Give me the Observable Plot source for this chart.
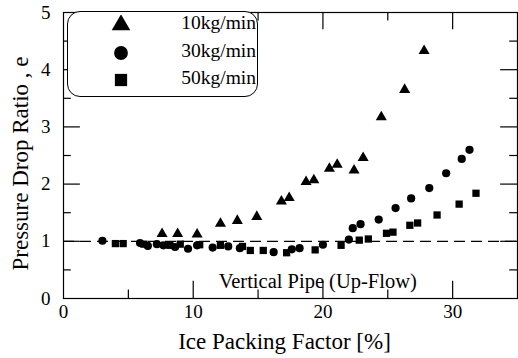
<!DOCTYPE html>
<html>
<head>
<meta charset="utf-8">
<script src="https://cdn.jsdelivr.net/npm/d3@7"></script>
<script src="https://cdn.jsdelivr.net/npm/@observablehq/plot@0.6"></script>
<style>
  html, body { margin: 0; padding: 0; background: #fff; }
  #wrap { position: relative; width: 518px; height: 358px; font-family: "Liberation Serif", "Times New Roman", Times, serif; }
  #wrap svg text { font-family: "Liberation Serif", "Times New Roman", Times, serif !important; }
  #legend { position: absolute; left: 67px; top: 11px; width: 191px; height: 86px; border: 1.5px solid #000; border-radius: 13px; background: #fff; box-sizing: border-box; }
  .row { position: absolute; left: 0; width: 100%; height: 26px; }
  .row svg { position: absolute; left: 43px; top: 3px; }
  .row span { position: absolute; right: 1px; top: 0px; font-size: 19.5px; color: #000; font-family: "Liberation Serif", "Times New Roman", Times, serif; }
</style>
</head>
<body>
<div id="wrap"><div id="legend"></div></div>
<script>
const seriesNames = ["10kg/min", "30kg/min", "50kg/min"];
const seriesSymbols = ["triangle", "circle", "square"];

const ipf10 = [7.6, 8.8, 10.3, 12.1, 13.4, 14.9, 16.8, 17.4, 18.7, 19.3, 20.5, 21.1, 22.4, 23.1, 24.5, 26.3, 27.8];
const ratio10 = [1.13, 1.13, 1.12, 1.31, 1.36, 1.43, 1.70, 1.76, 2.04, 2.07, 2.27, 2.34, 2.24, 2.46, 3.17, 3.65, 4.33];

const ipf30 = [3.0, 5.9, 6.5, 7.2, 7.7, 8.6, 9.6, 10.3, 11.5, 12.7, 13.6, 16.2, 17.6, 18.2, 20.0, 22.0, 22.3, 22.9, 24.3, 25.6, 26.8, 28.2, 29.5, 30.7, 31.3];
const ratio30 = [1.01, 0.97, 0.92, 0.95, 0.93, 0.90, 0.87, 0.93, 0.89, 0.91, 0.88, 0.81, 0.86, 0.88, 0.94, 1.03, 1.23, 1.30, 1.38, 1.58, 1.75, 1.93, 2.19, 2.44, 2.60];

const ipf50 = [4.0, 4.6, 6.2, 8.2, 9.0, 10.5, 12.1, 13.8, 14.4, 15.4, 17.2, 19.4, 21.4, 22.8, 23.5, 24.9, 25.4, 26.7, 27.3, 28.8, 30.5, 31.8];
const ratio50 = [0.96, 0.96, 0.95, 0.93, 0.95, 0.94, 0.93, 0.91, 0.84, 0.84, 0.80, 0.85, 0.93, 1.02, 1.04, 1.14, 1.16, 1.28, 1.32, 1.46, 1.65, 1.84];

const xTicks = [0, 10, 20, 30];
const xMinor = [5, 15, 25];
const yTicks = [0, 1, 2, 3, 4, 5];
const yMajorInner = [1, 2, 3, 4];
const yMinor = [0.5, 1.5, 2.5, 3.5, 4.5];
const refLine = [1];
const notes = [{x: 19.6, y: 0.29, text: "Vertical Pipe (Up-Flow)"}];

const xLabel = "Ice Packing Factor [%]";
const yLabel = "Pressure Drop Ratio , e";

const serif = "'Liberation Serif', 'Times New Roman', Times, serif";

const toRows = (xs, ys, s) => xs.map((x, i) => ({x, y: ys[i], s}));
const data = [
  ...toRows(ipf10, ratio10, seriesNames[0]),
  ...toRows(ipf30, ratio30, seriesNames[1]),
  ...toRows(ipf50, ratio50, seriesNames[2])
];

const xMax = 35, yMax = 5;
const majX = 1.3, minX = 0.6, majY = 0.3, minY = 0.15;

const chart = Plot.plot({
  width: 518,
  height: 358,
  marginLeft: 63,
  marginRight: 1,
  marginTop: 12,
  marginBottom: 60,
  style: {fontFamily: serif, fontSize: "19px", color: "#000", background: "#fff"},
  x: {domain: [0, xMax]},
  y: {domain: [0, yMax]},
  symbol: {domain: seriesNames, range: seriesSymbols},
  marks: [
    Plot.frame({stroke: "#000", strokeWidth: 1.2}),
    Plot.ruleY(refLine, {stroke: "#000", strokeWidth: 1.3, strokeDasharray: "11,6"}),
    Plot.ruleX(xTicks.slice(1), {y1: 0, y2: majY, stroke: "#000", strokeWidth: 1.2}),
    Plot.ruleX(xMinor, {y1: 0, y2: minY, stroke: "#000", strokeWidth: 1.2}),
    Plot.ruleX(xTicks.slice(1), {y1: yMax, y2: yMax - majY, stroke: "#000", strokeWidth: 1.2}),
    Plot.ruleX(xMinor, {y1: yMax, y2: yMax - minY, stroke: "#000", strokeWidth: 1.2}),
    Plot.ruleY(yMajorInner, {x1: 0, x2: majX, stroke: "#000", strokeWidth: 1.2}),
    Plot.ruleY(yMinor, {x1: 0, x2: minX, stroke: "#000", strokeWidth: 1.2}),
    Plot.ruleY(yMajorInner, {x1: xMax, x2: xMax - majX, stroke: "#000", strokeWidth: 1.2}),
    Plot.ruleY(yMinor, {x1: xMax, x2: xMax - minX, stroke: "#000", strokeWidth: 1.2}),
    Plot.axisX({ticks: xTicks, tickFormat: d3.format("d"), tickSize: 0, tickPadding: 6, fontSize: 19, label: xLabel, labelAnchor: "center", labelOffset: 50, labelArrow: "none"}),
    Plot.axisY({ticks: yTicks, tickFormat: d3.format("d"), tickSize: 0, tickPadding: 13, fontSize: 19, label: yLabel, labelAnchor: "center", labelOffset: 52, labelArrow: "none"}),
    Plot.text(notes, {x: "x", y: "y", text: "text", fontSize: 20.5, fill: "#000"}),
    Plot.dot(data, {x: "x", y: "y", symbol: "s", r: 4.1, fill: "#000", stroke: "none"})
  ]
});

document.getElementById("wrap").prepend(chart);
const sel = d3.select(chart);
sel.style("font-family", serif);
sel.selectAll("text").attr("fill", "#000").style("font-family", serif);
sel.selectAll("[aria-label='x-axis label'] text, [aria-label='y-axis label'] text").style("font-size", "23px");
const shift = (label, dx, dy) => sel.selectAll(`[aria-label='${label}']`)
  .attr("transform", function() { return `translate(${dx},${dy}) ` + (this.getAttribute("transform") || ""); });
shift("x-axis label", -6, 0);
shift("y-axis label", 0, 8);

const symbolTypes = {triangle: d3.symbolTriangle, circle: d3.symbolCircle, square: d3.symbolSquare};
const legend = d3.select("#legend");
seriesNames.forEach((name, i) => {
  const row = legend.append("div").attr("class", "row").style("top", (i * 27.5) + "px");
  const svg = row.append("svg").attr("width", 20).attr("height", 20);
  svg.append("path")
    .attr("transform", "translate(10,10)")
    .attr("d", d3.symbol(symbolTypes[seriesSymbols[i]], 150)())
    .attr("fill", "#000");
  row.append("span").text(name);
});
</script>
</body>
</html>
